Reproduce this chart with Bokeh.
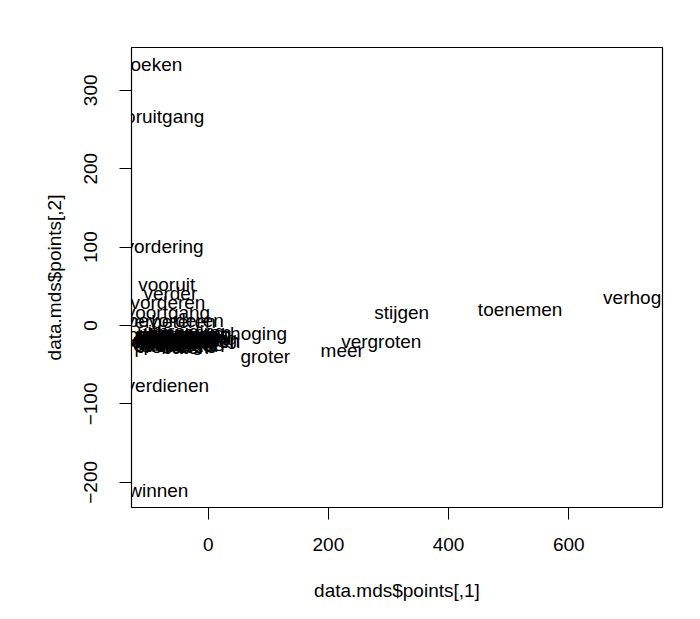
from bokeh.plotting import figure
from bokeh.models import Range1d, ColumnDataSource, FixedTicker
from bokeh.core.properties import value
from bokeh.embed import file_html
from bokeh.resources import INLINE

# MDS coordinates
words = [
    "boeken", "vooruitgang", "bevordering", "vooruit", "verder", "vorderen",
    "voortgang", "bevorderen", "verbeteren", "verhoging", "groter", "meer",
    "vergroten", "stijgen", "toenemen", "verhogen", "verdienen", "winnen",
    "verbetering", "groei", "toename", "stijging", "uitbreiding", "ontwikkeling",
    "opbrengst", "winst", "baten", "voordeel", "succes", "beter", "hoger",
    "sterker", "groeien", "uitbreiden", "ontwikkelen", "opleveren", "behalen",
    "bereiken", "verwerven", "presteren", "vermeerderen", "versterken",
    "opkomst", "aanwas", "opgang", "bloei", "bijdragen", "verrijken",
]
dim1 = [
    -95, -89, -91, -69, -63, -67,
    -67, -54, -63, 62, 95, 223,
    288, 322, 519, 723, -68, -83,
    -40, -75, -50, -35, -45, -38,
    -55, -70, -38, -60, -72, -65, -30,
    -48, -58, -42, -30, -52, -66,
    -44, -35, -56, -45, -62,
    -74, -28, -68, -80, -50, -25,
]
dim2 = [
    333, 267, 101, 52, 41, 30,
    17, 6, 5, -10, -40, -32,
    -20, 16, 20, 36, -77, -210,
    -12, -15, -18, -22, -8, -16,
    -24, -20, -28, -13, -26, -10, -14,
    -21, -17, -25, -19, -11, -22,
    -15, -9, -27, -20, -19,
    -12, -24, -16, -23, -14, -17,
]
x_ticks = [0, 200, 400, 600]
y_ticks = [-200, -100, 0, 100, 200, 300]

FONT = "Liberation Sans"

p = figure(
    width=692, height=611,
    x_range=Range1d(-127.6, 755.9), y_range=Range1d(-232.1, 354.6),
    output_backend="svg", toolbar_location=None,
    min_border_left=131, min_border_right=30,
    min_border_top=47, min_border_bottom=104,
)
p.background_fill_color = "white"
p.border_fill_color = "white"
p.outline_line_color = "black"
p.outline_line_width = 1.2
p.grid.visible = False

src = ColumnDataSource(dict(x=dim1, y=dim2, text=words))
p.text(x="x", y="y", text="text", source=src,
       text_font=value(FONT), text_font_size="19px",
       text_align="center", text_baseline="middle", text_color="black")

p.xaxis.ticker = FixedTicker(ticks=x_ticks)
p.yaxis.ticker = FixedTicker(ticks=y_ticks)
for ax in (p.xaxis, p.yaxis):
    ax.axis_line_color = None
    ax.major_tick_in = 0
    ax.major_tick_out = 12
    ax.major_tick_line_color = "black"
    ax.minor_tick_line_color = None
    ax.major_label_text_font = FONT
    ax.major_label_text_font_size = "19px"
    ax.major_label_text_color = "black"
    ax.axis_label_text_font = FONT
    ax.axis_label_text_font_size = "19px"
    ax.axis_label_text_font_style = "normal"
    ax.axis_label_text_color = "black"

p.xaxis.axis_label = "data.mds$points[,1]"
p.yaxis.axis_label = "data.mds$points[,2]"
p.xaxis.major_label_standoff = 18
p.xaxis.axis_label_standoff = 26
p.yaxis.major_label_orientation = "parallel"
p.yaxis.major_label_standoff = 22
p.yaxis.axis_label_standoff = 17

open("out.html", "w").write(file_html(p, INLINE))
